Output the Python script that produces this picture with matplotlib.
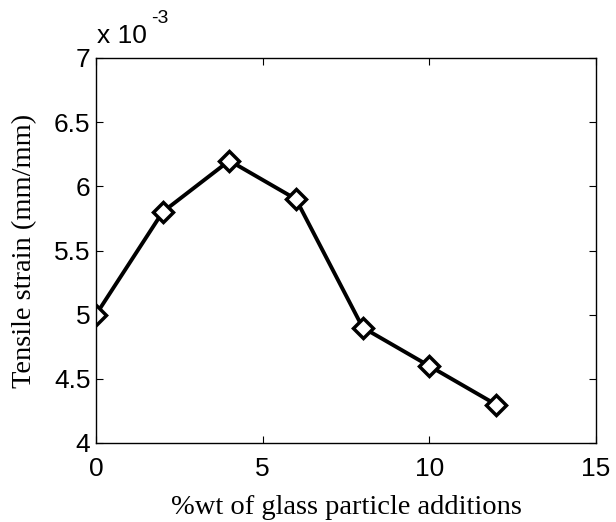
import numpy as np
import matplotlib.pyplot as plt
from matplotlib.ticker import FuncFormatter

# glass particle content (%wt) and tensile strain (mm/mm)
wt_pct = [0, 2, 4, 6, 8, 10, 12]
strain = [5.0e-3, 5.8e-3, 6.2e-3, 5.9e-3, 4.9e-3, 4.6e-3, 4.3e-3]

x_ticks = [0, 5, 10, 15]
y_ticks = [4.0e-3, 4.5e-3, 5.0e-3, 5.5e-3, 6.0e-3, 6.5e-3, 7.0e-3]

plt.rcParams['font.family'] = ['Liberation Sans', 'DejaVu Sans']

fig = plt.figure(figsize=(6.16, 5.22), dpi=100)
ax = fig.add_axes([96 / 616, 1 - 443 / 522, 500 / 616, 385 / 522])

ax.plot(wt_pct, strain, color='black', linewidth=2.8,
        marker='D', markersize=10.5, markerfacecolor='white',
        markeredgecolor='black', markeredgewidth=2.5)

ax.set_xlim(0, 15)
ax.set_ylim(4e-3, 7e-3)
ax.set_xticks(x_ticks)
ax.set_yticks(y_ticks)
ax.yaxis.set_major_formatter(FuncFormatter(lambda v, p: '%g' % round(v * 1e3, 3)))

ax.tick_params(direction='in', length=5, width=0.8, labelsize=19,
               top=True, right=True)
ax.tick_params(axis='x', pad=10)
ax.tick_params(axis='y', pad=4)
for s in ax.spines.values():
    s.set_linewidth(1.0)

# exponent written MATLAB-style above the y axis
fig.text(97 / 616, 1 - 43 / 522, 'x 10', fontsize=19, ha='left', va='baseline')
fig.text(151 / 616, 1 - 23 / 522, '-3', fontsize=14, ha='left', va='baseline')

ax.set_xlabel('%wt of glass particle additions', family='Liberation Serif',
              fontsize=20.5, labelpad=10)
ax.set_ylabel('Tensile strain (mm/mm)', family='Liberation Serif',
              fontsize=20.5, labelpad=12)

fig.savefig('out.png', dpi=100)
